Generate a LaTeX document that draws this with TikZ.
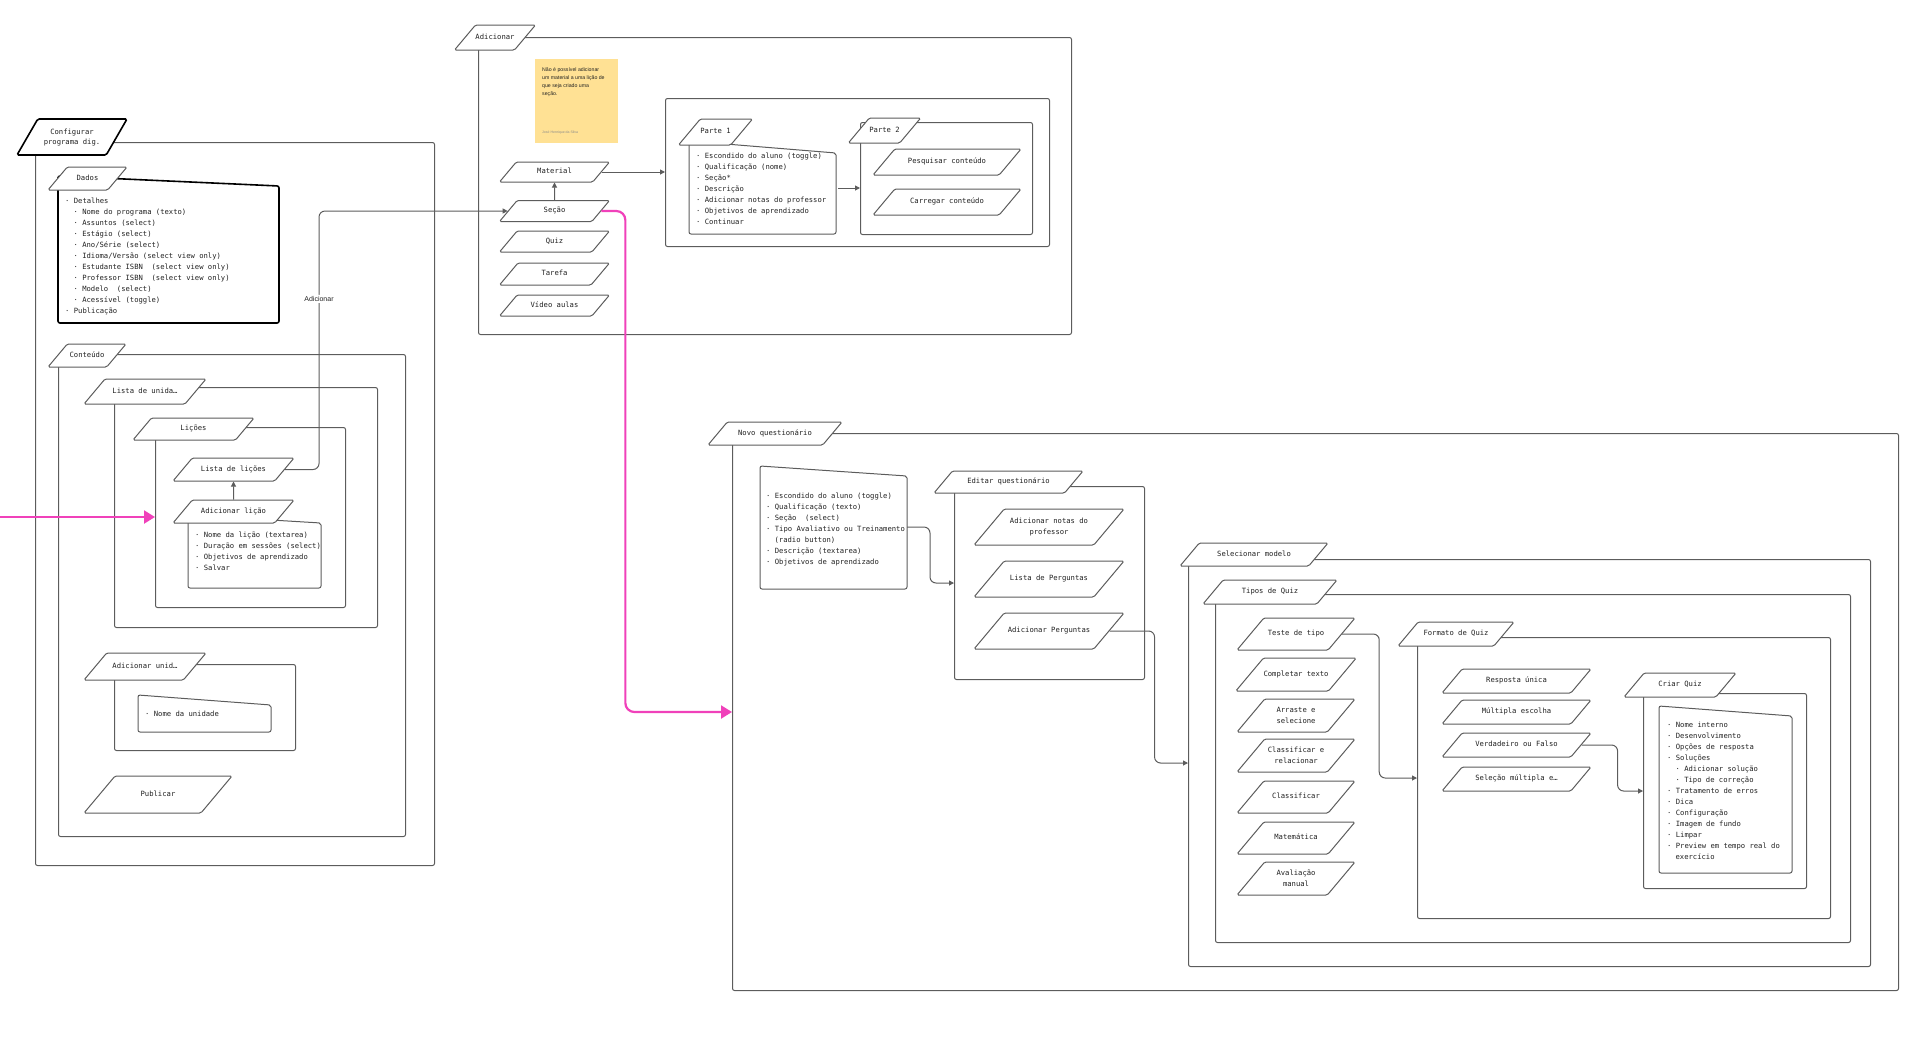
\documentclass[tikz,border=0pt]{standalone}
\usepackage{fontspec}
\setmainfont{DejaVu Sans Mono}
\newfontfamily\notefont{Liberation Sans}
\usetikzlibrary{shapes.geometric,arrows.meta}

\definecolor{linegrey}{HTML}{5C5C5C}
\definecolor{txtgrey}{HTML}{222222}
\definecolor{hotpink}{HTML}{F041BA}
\definecolor{stickyyellow}{HTML}{FFE194}

\newcommand\ind{\hspace*{8.4pt}}
\newcommand\two[2]{\begin{tabular}{@{}c@{}}#1\\#2\end{tabular}}
\newcommand\listlines[4]{%
  \foreach \t [count=\i from 0] in {#4}
    \node[listline] (#1-\i) at (#2,{#3+11*\i}) {\t};}

\tikzset{
  cbox/.style={draw=linegrey, line width=1pt, rounded corners=2pt, anchor=north west, inner sep=0pt},
  tabshape/.style={trapezium, trapezium left angle=50, trapezium right angle=130,
    trapezium stretches body, draw=linegrey, fill=white, line width=1pt,
    rounded corners=1.5pt, inner xsep=0pt, text height=5pt, text depth=1.5pt,
    text=txtgrey, font=\fontsize{7.2}{11}\selectfont},
  sz/.style 2 args={minimum width=#1pt, minimum height=#2pt, inner ysep={(#2-6.5)/2}},
  boldtab/.style={tabshape, draw=black, line width=1.6pt,
    trapezium left angle=60, trapezium right angle=120, font=\fontsize{7.2}{10}\selectfont},
  listline/.style={anchor=west, inner sep=0pt, text height=5pt, text depth=1.5pt,
    text=txtgrey, font=\fontsize{7.2}{11}\selectfont},
  docbox/.style={draw=linegrey, line width=1pt, rounded corners=2pt},
  wire/.style={draw=linegrey, line width=1pt, rounded corners=6pt, -{Triangle[length=5pt,width=5pt]}},
  pinkwire/.style={draw=hotpink, line width=2.2pt, rounded corners=9pt, -{Triangle[length=11pt,width=13pt]}},
}

\begin{document}
\begin{tikzpicture}[x=1pt,y=-1pt]
  \useasboundingbox (0,0) rectangle (1920,1037);

  %%%%% CONFIGURAR %%%%%
  \node[cbox, minimum width=399pt, minimum height=723pt] (cfgBox) at (35,142) {};
  \node[cbox, minimum width=347pt, minimum height=482pt] (contBox) at (58,354) {};
  \node[cbox, minimum width=263pt, minimum height=240pt] (unidBox) at (114,387) {};
  \node[cbox, minimum width=190pt, minimum height=180pt] (licoesBox) at (155,427) {};
  \node[cbox, minimum width=181pt, minimum height=86pt] (addUnidBox) at (114,664) {};

  \draw[docbox, draw=black, line width=1.6pt] (58,176) -- (279,186) -- (279,323) -- (58,323) -- cycle;
  \draw[docbox] (188,515) -- (321,523) -- (321,588) -- (188,588) -- cycle;
  \draw[docbox] (138,695) -- (271,705) -- (271,732) -- (138,732) -- cycle;

  \node[boldtab, sz={110}{36}] (cfgTab) at (72,137) {\two{Configurar}{programa dig.}};
  \node[tabshape, sz={79}{23}] (dadosTab) at (87.5,178.5) {Dados};
  \node[tabshape, sz={78}{23}] (contTab) at (87,355.5) {Conteúdo};
  \node[tabshape, sz={122}{25}] (unidTab) at (145,391.5) {Lista de unida…};
  \node[tabshape, sz={121}{22}] (licoesTab) at (193.5,429) {Lições};
  \node[tabshape, sz={121}{23}] (listaLicoes) at (233.5,469.5) {Lista de lições};
  \node[tabshape, sz={121}{23}] (addLicao) at (233.5,511.5) {Adicionar lição};
  \node[tabshape, sz={122}{27}] (addUnidTab) at (145,666.5) {Adicionar unid…};
  \node[tabshape, sz={148}{37}] (publicar) at (158,794.5) {Publicar};

  \listlines{dados}{65}{202}{{· Detalhes},{\ind· Nome do programa (texto)},{\ind· Assuntos (select)},{\ind· Estágio (select)},{\ind· Ano/Série (select)},{\ind· Idioma/Versão (select view only)},{\ind· Estudante ISBN~~(select view only)},{\ind· Professor ISBN~~(select view only)},{\ind· Modelo~~(select)},{\ind· Acessível (toggle)},{· Publicação}}
  \listlines{licao}{195}{536}{{· Nome da lição (textarea)},{· Duração em sessões (select)},{· Objetivos de aprendizado},{· Salvar}}
  \listlines{unid}{145}{715}{{· Nome da unidade}}

  %%%%% ADICIONAR %%%%%
  \node[cbox, minimum width=593pt, minimum height=297pt] (adicBox) at (478,37) {};
  \node[cbox, minimum width=384pt, minimum height=148pt] (materialBox) at (665,98) {};
  \node[cbox, minimum width=172pt, minimum height=112pt] (parte2Box) at (860,122) {};
  \draw[docbox] (689,141) -- (836,153) -- (836,234) -- (689,234) -- cycle;

  \node[fill=stickyyellow, anchor=north west, inner sep=0pt, minimum width=83pt, minimum height=84pt] (nota) at (535,59) {};
  \node[anchor=north west, inner sep=0pt, align=left, text=txtgrey, font=\notefont\fontsize{5.2}{8.3}\selectfont] (notaTxt) at (542,67)
    {Não é possível adicionar\\um material a uma lição de\\que seja criado uma\\seção.};
  \node[anchor=west, inner sep=0pt, text=black!45, font=\notefont\fontsize{3.5}{4}\selectfont] (notaAutor) at (542,133) {José Henrique da Silva};

  \node[tabshape, sz={80}{25}] (adicTab) at (495,37.5) {Adicionar};
  \node[tabshape, sz={110}{20}] (material) at (554.5,172) {Material};
  \node[tabshape, sz={110}{21}] (secao) at (554.5,211) {Seção};
  \node[tabshape, sz={110}{21}] (quiz) at (554.5,241.5) {Quiz};
  \node[tabshape, sz={110}{22}] (tarefa) at (554.5,274) {Tarefa};
  \node[tabshape, sz={110}{21}] (video) at (554.5,305.5) {Vídeo aulas};
  \node[tabshape, sz={73}{26}] (parte1Tab) at (715.5,132) {Parte 1};
  \node[tabshape, sz={71}{25}] (parte2Tab) at (884.5,130.5) {Parte 2};
  \node[tabshape, sz={148}{26}] (pesquisar) at (947,162) {Pesquisar conteúdo};
  \node[tabshape, sz={148}{26}] (carregar) at (947,202) {Carregar conteúdo};

  \listlines{parte}{696}{157}{{· Escondido do aluno (toggle)},{· Qualificação (nome)},{· Seção*},{· Descrição},{· Adicionar notas do professor},{· Objetivos de aprendizado},{· Continuar}}

  %%%%% NOVO QUESTIONARIO %%%%%
  \node[cbox, minimum width=1166pt, minimum height=557pt] (novoBox) at (732,433) {};
  \node[cbox, minimum width=190pt, minimum height=193pt] (editarBox) at (954,486) {};
  \node[cbox, minimum width=682pt, minimum height=407pt] (selBox) at (1188,559) {};
  \node[cbox, minimum width=635pt, minimum height=348pt] (tiposBox) at (1215,594) {};
  \node[cbox, minimum width=413pt, minimum height=281pt] (formatoBox) at (1417,637) {};
  \node[cbox, minimum width=163pt, minimum height=195pt] (criarBox) at (1643,693) {};

  \draw[docbox] (760,466) -- (907,476) -- (907,589) -- (760,589) -- cycle;
  \draw[docbox] (1659,706) -- (1792,716) -- (1792,873) -- (1659,873) -- cycle;

  \node[tabshape, sz={134}{23}] (novoTab) at (775,433.5) {Novo questionário};
  \node[tabshape, sz={149}{22}] (editarTab) at (1008.5,482) {Editar questionário};
  \node[tabshape, sz={150}{36}] (notas) at (1049,527) {\two{Adicionar notas do}{professor}};
  \node[tabshape, sz={150}{36}] (listaPerg) at (1049,579) {Lista de Perguntas};
  \node[tabshape, sz={150}{36}] (addPerg) at (1049,631) {Adicionar Perguntas};
  \node[tabshape, sz={148}{23}] (selTab) at (1254,554.5) {Selecionar modelo};
  \node[tabshape, sz={134}{24}] (tiposTab) at (1270,592) {Tipos de Quiz};
  \node[tabshape, sz={118}{32}] (teste) at (1296,634) {Teste de tipo};
  \node[tabshape, sz={118}{33}] (completar) at (1296,674.5) {Completar texto};
  \node[tabshape, sz={118}{33}] (arraste) at (1296,715.5) {\two{Arraste e}{selecione}};
  \node[tabshape, sz={118}{33}] (classRel) at (1296,755.5) {\two{Classificar e}{relacionar}};
  \node[tabshape, sz={118}{32}] (classif) at (1296,797) {Classificar};
  \node[tabshape, sz={118}{32}] (matem) at (1296,838) {Matemática};
  \node[tabshape, sz={118}{33}] (avaliacao) at (1296,878.5) {\two{Avaliação}{manual}};
  \node[tabshape, sz={116}{24}] (formatoTab) at (1456,634) {Formato de Quiz};
  \node[tabshape, sz={149}{24}] (resposta) at (1516.5,681) {Resposta única};
  \node[tabshape, sz={149}{24}] (multipla) at (1516.5,712) {Múltipla escolha};
  \node[tabshape, sz={149}{24}] (verdadeiro) at (1516.5,745) {Verdadeiro ou Falso};
  \node[tabshape, sz={149}{24}] (selecao) at (1516.5,779) {Seleção múltipla e…};
  \node[tabshape, sz={112}{24}] (criarTab) at (1680,685) {Criar Quiz};

  \listlines{info}{766}{497}{{· Escondido do aluno (toggle)},{· Qualificação (texto)},{· Seção~~(select)},{· Tipo Avaliativo ou Treinamento},{\ind(radio button)},{· Descrição (textarea)},{· Objetivos de aprendizado}}
  \listlines{criar}{1667}{726}{{· Nome interno},{· Desenvolvimento},{· Opções de resposta},{· Soluções},{\ind· Adicionar solução},{\ind· Tipo de correção},{· Tratamento de erros},{· Dica},{· Configuração},{· Imagem de fundo},{· Limpar},{· Preview em tempo real do},{\ind exercício}}

  %%%%% CONNECTORS %%%%%
  \draw[wire] (addLicao) -- (listaLicoes);
  \draw[wire] (listaLicoes.east) -- ++(34,0) |- (secao.west)
    node[pos=0.33, fill=white, inner sep=1.5pt, text=txtgrey, font=\notefont\fontsize{7}{8}\selectfont] (adicLbl) {Adicionar};
  \draw[wire] (secao) -- (material);
  \draw[wire] (material.east) -- (material.east -| materialBox.west);
  \coordinate (p1out) at (838,188);
  \draw[wire] (p1out) -- (p1out -| parte2Box.west);
  \coordinate (infoOut) at (907,527);
  \draw[wire] (infoOut) -- ++(23,0) |- (editarBox.west);
  \draw[wire] (addPerg.east) -- ++(45,0) |- (selBox.west);
  \draw[wire] (teste.east) -- ++(37,0) |- (formatoBox.west);
  \draw[wire] (verdadeiro.east) -- ++(36,0) |- (criarBox.west);

  \draw[pinkwire] (secao.east) -- ++(24,0) |- (novoBox.west);
  \coordinate (leftIn) at (0,517);
  \draw[pinkwire] (leftIn) -- (leftIn -| licoesBox.west);
\end{tikzpicture}
\end{document}
